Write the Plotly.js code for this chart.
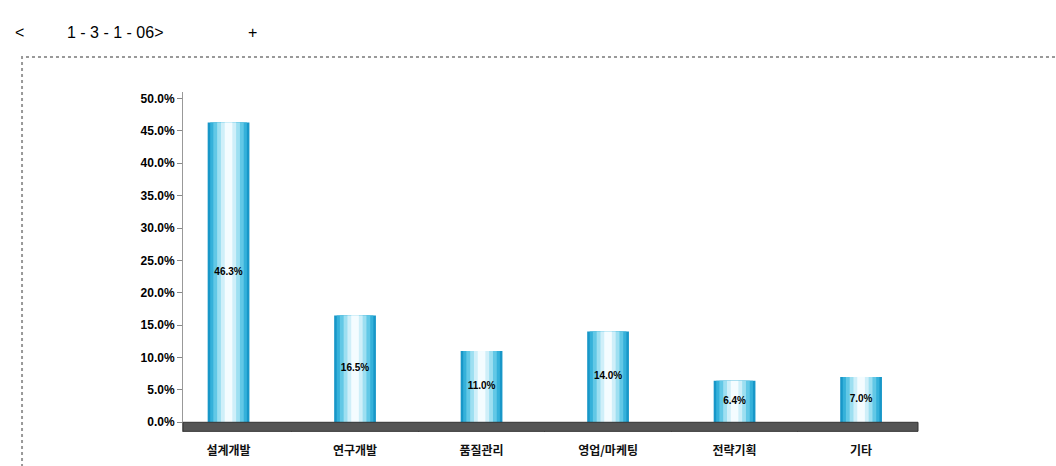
<!DOCTYPE html>
<html>
<head>
<meta charset="utf-8">
<script src="https://cdn.plot.ly/plotly-3.0.1.min.js"></script>
<style>html,body{margin:0;padding:0;background:#fff;}#chart{width:1056px;height:466px;}</style>
</head>
<body>
<div id="chart"></div>
<script>
const categories = ["설계개발", "연구개발", "품질관리", "영업/마케팅", "전략기획", "기타"];
const shares = [46.3, 16.5, 11.0, 14.0, 6.4, 7.0];
const shareLabels = ["46.3%", "16.5%", "11.0%", "14.0%", "6.4%", "7.0%"];
const yTicks = [0, 5, 10, 15, 20, 25, 30, 35, 40, 45, 50];
const yTickLabels = ["0.0%", "5.0%", "10.0%", "15.0%", "20.0%", "25.0%", "30.0%", "35.0%", "40.0%", "45.0%", "50.0%"];

// cylinder shading layers: outer dark blue -> white centre
const layers = [
  {w: 0.33, c: "#1897c8"},
  {w: 0.29, c: "#35b1da"},
  {w: 0.24, c: "#62c8e6"},
  {w: 0.18, c: "#9ddff1"},
  {w: 0.12, c: "#cfeff9"},
  {w: 0.06, c: "#f4fcff"}
];
const traces = layers.map(l => ({
  type: "bar", x: categories, y: shares, width: l.w,
  marker: {color: l.c, line: {width: 0}},
  hoverinfo: "skip", showlegend: false
}));
traces.push({
  type: "scatter", mode: "text", x: categories, y: shares.map(v => v / 2),
  text: shareLabels, textposition: "middle center",
  textfont: {family: "Arial, Liberation Sans, sans-serif", size: 10, color: "#000", weight: "bold"},
  hoverinfo: "skip", showlegend: false, cliponaxis: false
});

const layout = {
  width: 1056, height: 466,
  margin: {l: 183, r: 138, t: 92, b: 34},
  paper_bgcolor: "#fff", plot_bgcolor: "rgba(0,0,0,0)",
  barmode: "overlay",
  showlegend: false,
  xaxis: {
    type: "category", range: [-0.36, 5.45],
    tickson: "boundaries", ticks: "inside", ticklen: 6, tickcolor: "#888", tickwidth: 1,
    showline: false, showgrid: false, zeroline: false,
    tickfont: {family: "Noto Sans CJK KR, sans-serif", size: 12, color: "#111", weight: "bold"},
    ticklabelstandoff: 10
  },
  yaxis: {
    range: [-1.5, 51], tickmode: "array", tickvals: yTicks, ticktext: yTickLabels,
    ticks: "outside", ticklen: 5, tickcolor: "#888", tickwidth: 1,
    showline: true, linecolor: "#999", linewidth: 1,
    showgrid: false, zeroline: false,
    tickfont: {family: "Arial, Liberation Sans, sans-serif", size: 12, color: "#000", weight: "bold"}
  },
  shapes: [
    {type: "rect", xref: "paper", yref: "paper", x0: -0.219, x1: 1.4, y0: -0.3, y1: 1.103,
     line: {color: "#999", width: 2, dash: "dot"}, fillcolor: "rgba(0,0,0,0)", layer: "below"},
    {type: "rect", xref: "paper", yref: "y", x0: 0, x1: 1, y0: -1.4, y1: 0,
     line: {color: "#333", width: 1}, fillcolor: "#555", layer: "above"}
  ],
  annotations: [
    {xref: "paper", yref: "paper", x: -0.222, y: 1.174, xanchor: "center", yanchor: "middle",
     text: "<", showarrow: false, font: {family: "Arial, Liberation Sans, sans-serif", size: 16, color: "#000"}},
    {xref: "paper", yref: "paper", x: -0.0925, y: 1.174, xanchor: "center", yanchor: "middle",
     text: "1 - 3 - 1 - 06>", showarrow: false, font: {family: "Arial, Liberation Sans, sans-serif", size: 16, color: "#000"}},
    {xref: "paper", yref: "paper", x: 0.094, y: 1.174, xanchor: "center", yanchor: "middle",
     text: "+", showarrow: false, font: {family: "Arial, Liberation Sans, sans-serif", size: 16, color: "#000"}}
  ]
};
Plotly.newPlot("chart", traces, layout, {displayModeBar: false, staticPlot: true});
</script>
</body>
</html>
